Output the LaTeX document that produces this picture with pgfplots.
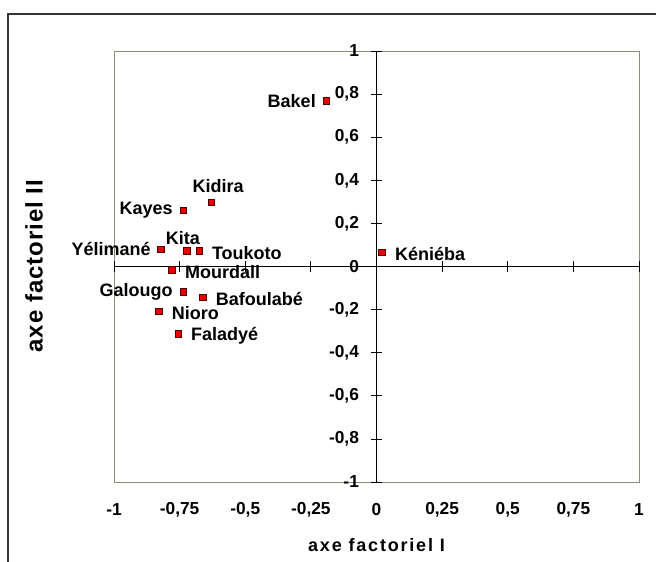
\documentclass[border=0pt]{standalone}
\usepackage{pgfplots}
\pgfplotsset{compat=1.18}
\usepackage{fontspec}
\setmainfont{Liberation Sans}
\definecolor{boxgray}{RGB}{140,140,125}
\definecolor{mkred}{RGB}{230,0,0}

\begin{document}
\begin{tikzpicture}
\useasboundingbox (-85.5pt,-59.25pt) rectangle (406.5pt,361.5pt);
\fill[white] (-85.5pt,-59.25pt) rectangle (406.5pt,361.5pt);
\draw[line width=0.8pt, black!80] (-79.5pt,-70pt) -- (-79.5pt,351pt) -- (420pt,351pt);
% frame axis with x tick labels at the bottom
\begin{axis}[
  at={(0,0)}, anchor=south west,
  scale only axis, width=393.75pt, height=323.25pt,
  xmin=-1, xmax=1, ymin=-1, ymax=1,
  axis lines=box,
  axis line style={draw=boxgray, line width=0.6pt},
  xtick={-1,-0.75,-0.5,-0.25,0,0.25,0.5,0.75,1},
  xticklabels={-1,{-0,75},{-0,5},{-0,25},0,{0,25},{0,5},{0,75},1},
  ytick=\empty,
  major tick length=0pt,
  xticklabel style={font=\bfseries\fontsize{13}{15}\selectfont, anchor=center, inner sep=0pt, yshift=-21pt},
]
\end{axis}
% middle axes with data
\begin{axis}[
  at={(0,0)}, anchor=south west,
  scale only axis, width=393.75pt, height=323.25pt,
  xmin=-1, xmax=1, ymin=-1, ymax=1,
  axis lines=middle,
  axis line style={-, draw=black, line width=0.8pt},
  hide obscured x ticks=false, hide obscured y ticks=false,
  xtick={-1,-0.75,-0.5,-0.25,0,0.25,0.5,0.75,1},
  xticklabels={},
  ytick={-1,-0.8,-0.6,-0.4,-0.2,0,0.2,0.4,0.6,0.8,1},
  yticklabels={-1,{-0,8},{-0,6},{-0,4},{-0,2},0,{0,2},{0,4},{0,6},{0,8},1},
  tick align=center, major tick length=8pt,
  tick style={black, line width=0.6pt},
  yticklabel style={font=\bfseries\fontsize{13}{15}\selectfont, anchor=east, inner sep=0pt, xshift=-9pt},
  clip=false,
  every node near coord/.append style={font=\bfseries\fontsize{13.5}{15}\selectfont, inner sep=0pt, text=black},
]
\pgfplotsset{myscatter/.style={only marks, mark=square*, mark size=2.4pt,
    mark options={fill=mkred, draw=black!70!red, line width=0.5pt},
    point meta=explicit symbolic, nodes near coords}}
% labels to the left
\addplot[myscatter, nodes near coords style={anchor=east, xshift=-7.5pt, yshift=0pt}] coordinates {
  (-0.192,0.768) [Bakel]
  (-0.737,0.262) [Kayes]
  (-0.821,0.081) [Yélimané]
  (-0.737,-0.118) [Galougo]
};
% labels to the right
\addplot[myscatter, nodes near coords style={anchor=west, xshift=9.5pt, yshift=-1.5pt}] coordinates {
  (0.021,0.067) [Kéniéba]
  (-0.676,0.072) [Toukoto]
  (-0.779,-0.016) [Mourdall]
  (-0.661,-0.142) [Bafoulabé]
  (-0.829,-0.207) [Nioro]
  (-0.756,-0.313) [Faladyé]
};
% labels above
\addplot[myscatter, nodes near coords style={anchor=south, xshift=5.25pt, yshift=6.75pt}] coordinates {
  (-0.630,0.299) [Kidira]
};
\addplot[myscatter, nodes near coords style={anchor=south, xshift=-3pt, yshift=4.5pt}] coordinates {
  (-0.722,0.072) [Kita]
};
\end{axis}
\node[font=\bfseries\fontsize{13.5}{15}\selectfont\addfontfeature{LetterSpace=10}] at (196.9pt,-47.25pt) {axe factoriel I};
\node[rotate=90, font=\bfseries\fontsize{18}{20}\selectfont\addfontfeature{LetterSpace=4}] at (-60pt,162pt) {axe factoriel II};
\end{tikzpicture}
\end{document}
